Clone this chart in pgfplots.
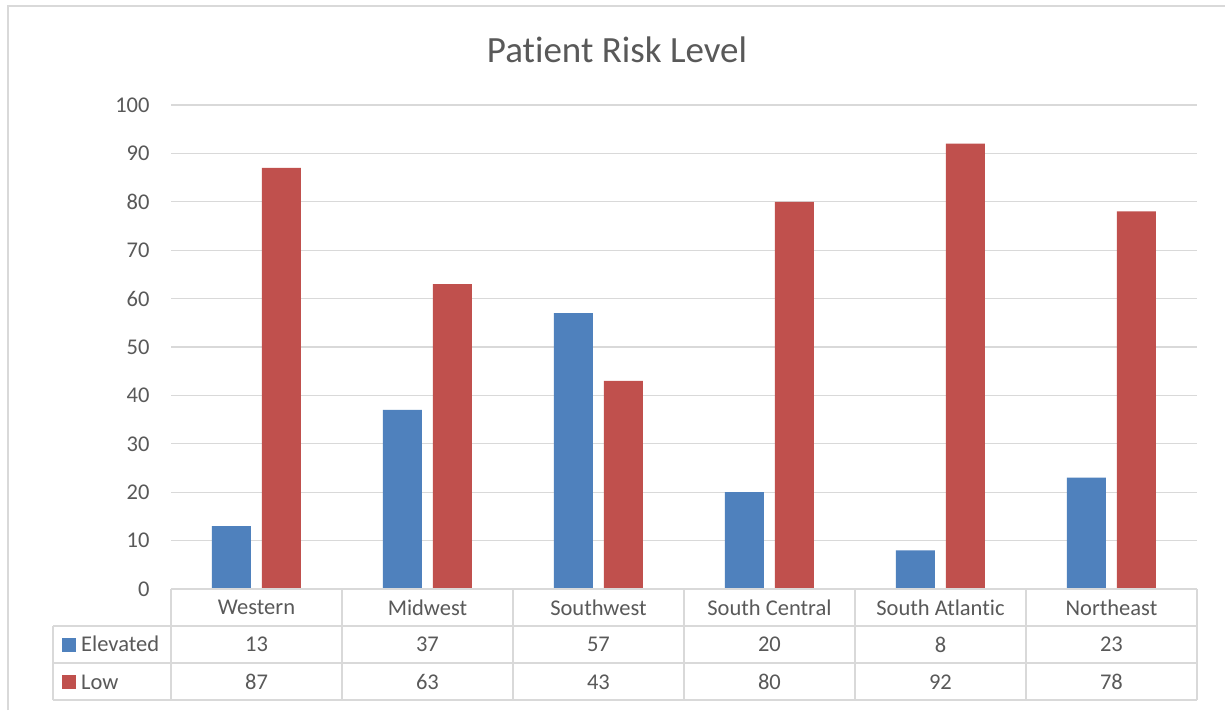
\documentclass[border=0pt]{standalone}
\usepackage{fontspec}
\setmainfont{Carlito}[Ligatures={NoCommon}]
\usepackage{pgfplots}
\usepackage{pgfplotstable}
\pgfplotsset{compat=1.18}
\definecolor{txt}{HTML}{595959}
\definecolor{grd}{HTML}{D9D9D9}
\definecolor{elev}{HTML}{4F81BD}
\definecolor{lowc}{HTML}{C0504D}
\pgfplotstableread{
idx elev low z
0 13 87 0
1 37 63 0
2 57 43 0
3 20 80 0
4 8 92 0
5 23 78 0
}\datatable
\begin{document}
\begin{tikzpicture}[x=1pt,y=1pt]
\useasboundingbox (0,0) rectangle (1225,710);
\fill[white] (0,0) rectangle (1225,710);
\draw[grd, line width=2pt] (8,0) -- (8,704) -- (1226,704);
\node[anchor=base, text=txt, font=\fontsize{37}{40}\selectfont, inner sep=0] at (617,647) {Patient Risk Level};
\begin{axis}[
  at={(171pt,121pt)}, anchor=south west, scale only axis,
  width=1026pt, height=484pt,
  xmin=-0.5, xmax=5.5, ymin=0, ymax=100,
  ytick={0,10,...,100},
  xtick={0,...,5},
  xticklabels={Western,Midwest,Southwest,South Central,South Atlantic,Northeast},
  ymajorgrids, grid style={grd, line width=1.2pt},
  axis line style={draw=none},
  major tick style={draw=none},
  tick label style={font=\fontsize{22.5}{25}\selectfont, text=txt},
  /pgf/number format/assume math mode=true,
  yticklabel style={anchor=east, xshift=-18pt},
  xticklabel style={anchor=center, yshift=-18.5pt},
  clip=false,
]
\addplot[ybar, bar width=39pt, bar shift=-25pt, fill=elev, draw=none] table[x=idx, y=elev] {\datatable};
\addplot[ybar, bar width=39pt, bar shift=25pt, fill=lowc, draw=none] table[x=idx, y=low] {\datatable};
\addplot[draw=none, mark=none, nodes near coords, point meta=explicit,
  nodes near coords style={anchor=center, yshift=-55.5pt, text=txt, font=\fontsize{22.5}{25}\selectfont}]
  table[x=idx, y=z, meta=elev] {\datatable};
\addplot[draw=none, mark=none, nodes near coords, point meta=explicit,
  nodes near coords style={anchor=center, yshift=-93pt, text=txt, font=\fontsize{22.5}{25}\selectfont}]
  table[x=idx, y=z, meta=low] {\datatable};
\end{axis}
\begin{scope}[grd, line width=1.5pt]
\draw (171,121) -- (1197,121);
\draw (53,84) -- (1197,84);
\draw (53,47) -- (1197,47);
\draw (53,10) -- (1197,10);
\foreach \xx in {171,342,513,684,855,1026,1197} {\draw (\xx,10) -- (\xx,121);}
\draw (53,10) -- (53,84);
\end{scope}
\fill[elev] (62,58.5) rectangle (76,72.5);
\fill[lowc] (62,21) rectangle (76,35);
\node[anchor=base west, inner sep=0, text=txt, font=\fontsize{22.5}{25}\selectfont] at (81,58.3) {Elevated};
\node[anchor=base west, inner sep=0, text=txt, font=\fontsize{22.5}{25}\selectfont] at (81,20.8) {Low};
\end{tikzpicture}
\end{document}
